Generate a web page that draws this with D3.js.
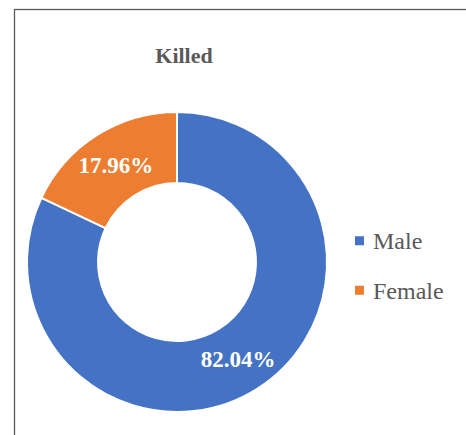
<!DOCTYPE html>
<html>
<head>
<meta charset="utf-8">
<script src="https://cdn.jsdelivr.net/npm/d3@7"></script>
<style>
  body { margin: 0; background: #fff; }
  svg { display: block; }
  text { font-family: "Liberation Serif", "Times New Roman", serif; }
</style>
</head>
<body>
<div id="content"></div>
<script>
// chart data
const categories = ["Male", "Female"];
const shares = [82.04, 17.96];
const colors = ["#4472C4", "#ED7D31"];
const title = "Killed";

const width = 466, height = 435;
const cx = 177, cy = 262;
const outerR = 150, innerR = 79;

let svg = d3.select("#content").append("svg")
    .attr("width", width)
    .attr("height", height);

// chart frame (runs off the right and bottom of the picture)
svg.append("rect")
    .attr("x", 14.5).attr("y", 9.5)
    .attr("width", 470).attr("height", 450)
    .attr("fill", "#fff")
    .attr("stroke", "#595959")
    .attr("stroke-width", 1.3);

svg.append("text")
    .attr("x", 184).attr("y", 63)
    .attr("text-anchor", "middle")
    .style("font-weight", "bold")
    .style("font-size", "22px")
    .attr("fill", "#595959")
    .text(title);

let data = categories.map((c, i) => ({ name: c, value: shares[i], color: colors[i] }));

let pie = d3.pie().sort(null).value(d => d.value);
let arc = d3.arc().innerRadius(innerR).outerRadius(outerR);

let g = svg.append("g").attr("transform", `translate(${cx},${cy})`);

let slices = g.selectAll("g.slice")
    .data(pie(data))
    .enter().append("g")
    .attr("class", "slice");

slices.append("path")
    .attr("d", arc)
    .attr("fill", d => d.data.color)
    .attr("stroke", "#fff")
    .attr("stroke-width", 2);

slices.append("text")
    .attr("transform", d => `translate(${arc.centroid(d)})`)
    .attr("text-anchor", "middle")
    .attr("dy", "0.35em")
    .style("font-weight", "bold")
    .style("font-size", "23px")
    .attr("fill", "#fff")
    .text(d => d.data.value.toFixed(2) + "%");

// legend
let legendY = d3.scaleBand().domain(categories).range([216, 315]);

let legend = svg.append("g").selectAll("g")
    .data(data)
    .enter().append("g")
    .attr("transform", d => `translate(355,${legendY(d.name) + legendY.bandwidth() / 2})`);

legend.append("rect")
    .attr("x", 0).attr("y", -4.5)
    .attr("width", 9).attr("height", 9)
    .attr("fill", d => d.color);

legend.append("text")
    .attr("x", 18).attr("y", 8.5)
    .style("font-size", "24px")
    .attr("fill", "#595959")
    .text(d => d.name);
</script>
</body>
</html>
